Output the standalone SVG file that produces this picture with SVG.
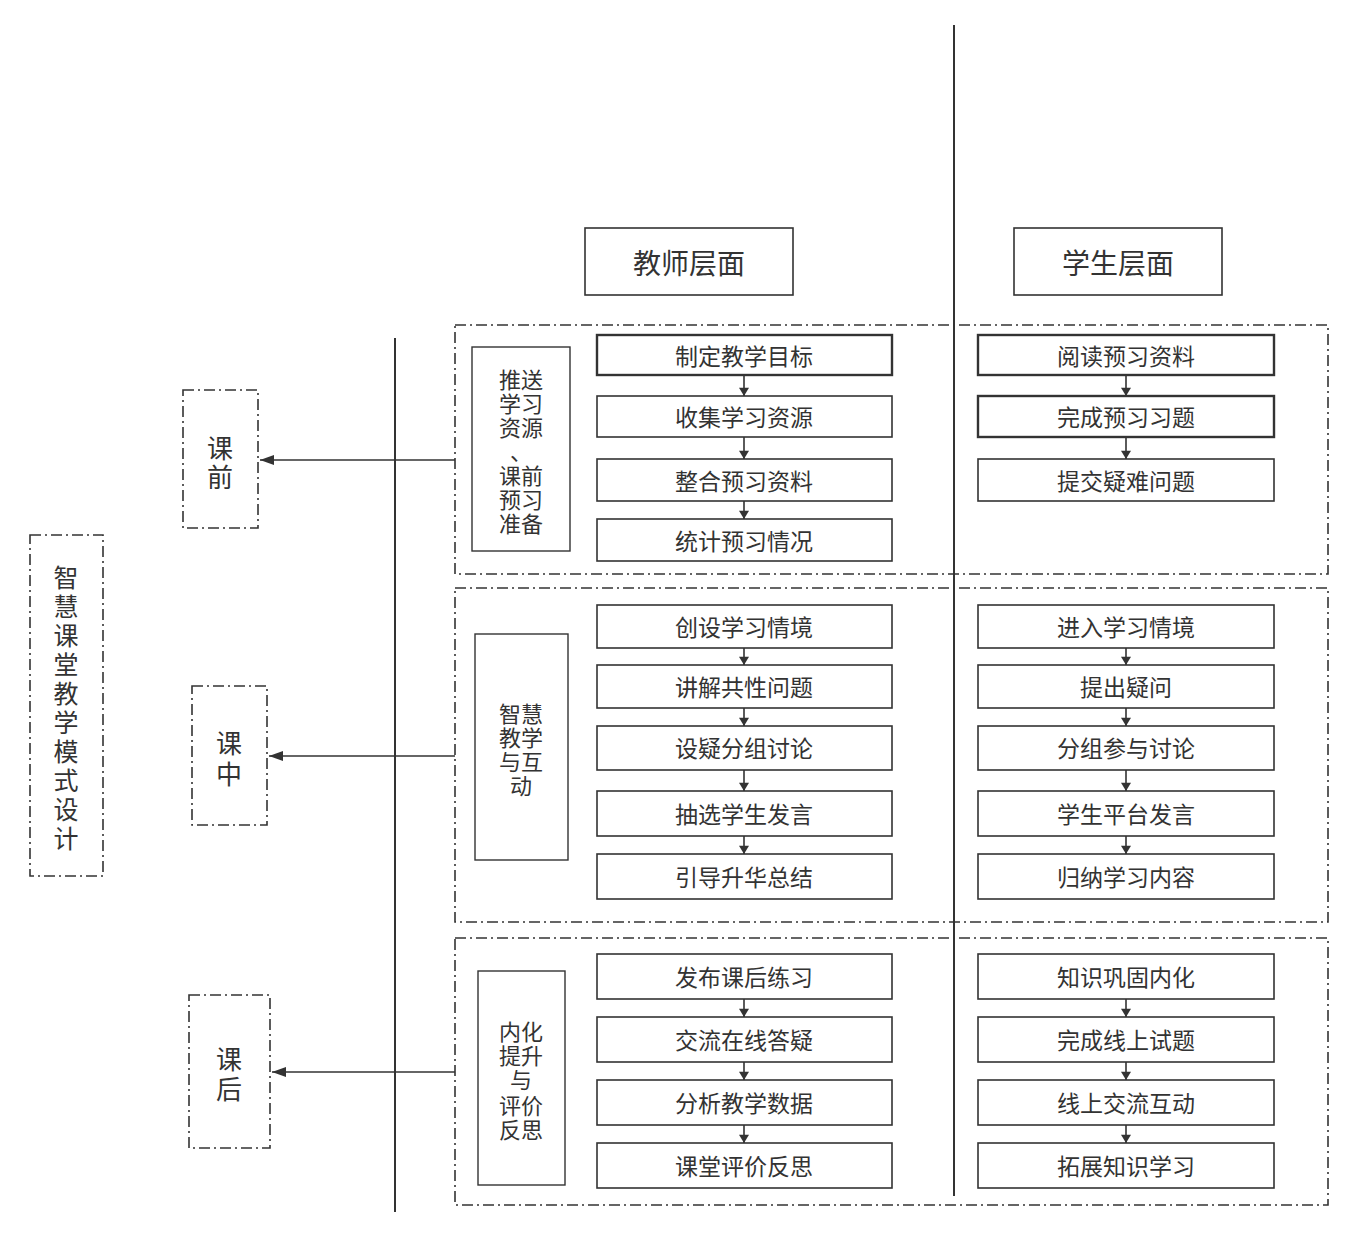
<svg xmlns="http://www.w3.org/2000/svg" width="1358" height="1237" viewBox="0 0 1358 1237">
<defs>
<style>
text{font-family:"Noto Sans CJK SC","Noto Sans",sans-serif;fill:#333;text-anchor:middle;dominant-baseline:central}
.dd{fill:none;stroke:#333;stroke-width:1.6;stroke-dasharray:11,4,2,4}
.box{fill:#fff;stroke:#333;stroke-width:1.6}
.bold{stroke-width:2.4}
.lbl{fill:#fff;stroke:#333;stroke-width:1.4}
.t{font-size:23px}
.h{font-size:28px}
.s{font-size:22px}
.big{font-size:26px}
.col{font-size:25px}
.axis{stroke:#333;stroke-width:2}
.ln{stroke:#333;stroke-width:1.6;fill:none}
</style>
<marker id="ah" viewBox="0 0 10 12" refX="10" refY="6" markerWidth="12" markerHeight="10" markerUnits="userSpaceOnUse" orient="auto">
<path d="M0,0 L10,6 L0,12 z" fill="#333"/>
</marker>
<marker id="al" viewBox="0 0 14 10" refX="14" refY="5" markerWidth="14" markerHeight="10" markerUnits="userSpaceOnUse" orient="auto">
<path d="M0,0 L14,5 L0,10 z" fill="#333"/>
</marker>
</defs>
<rect width="1358" height="1237" fill="#fff"/>

<g id="axes">
<line class="axis" x1="954" y1="25" x2="954" y2="1196"/>
<line class="axis" x1="395" y1="338" x2="395" y2="1212"/>
</g>

<g id="headers">
<g id="teacher-header"><rect class="box" x="585" y="228" width="208" height="67"/><text class="h" x="689" y="262">教师层面</text></g>
<g id="student-header"><rect class="box" x="1014" y="228" width="208" height="67"/><text class="h" x="1118" y="262">学生层面</text></g>
</g>

<g id="sections">
<rect class="dd" x="455" y="325" width="873" height="249"/>
<rect class="dd" x="455" y="588" width="873" height="334"/>
<rect class="dd" x="455" y="938" width="873" height="267"/>
</g>

<g id="main-label">
<rect class="dd" x="30" y="535" width="73" height="341"/>
<text class="col" x="66" y="576">智</text>
<text class="col" x="66" y="605">慧</text>
<text class="col" x="66" y="634">课</text>
<text class="col" x="66" y="663">堂</text>
<text class="col" x="66" y="692">教</text>
<text class="col" x="66" y="721">学</text>
<text class="col" x="66" y="750">模</text>
<text class="col" x="66" y="779">式</text>
<text class="col" x="66" y="808">设</text>
<text class="col" x="66" y="837">计</text>
</g>

<g id="phase-before"><rect class="dd" x="183" y="390" width="75" height="138"/><text class="big" x="220" y="446">课</text><text class="big" x="220" y="475">前</text></g>
<g id="phase-during"><rect class="dd" x="192" y="686" width="75" height="139"/><text class="big" x="229" y="741">课</text><text class="big" x="229" y="772">中</text></g>
<g id="phase-after"><rect class="dd" x="189" y="995" width="81" height="153"/><text class="big" x="229" y="1057">课</text><text class="big" x="229" y="1087">后</text></g>

<g id="label-1"><rect class="lbl" x="472" y="347" width="98" height="204"/>
<text class="s" x="521" y="378">推送</text><text class="s" x="521" y="402">学习</text><text class="s" x="521" y="426">资源</text><text class="s" x="521" y="450">、</text><text class="s" x="521" y="474">课前</text><text class="s" x="521" y="498">预习</text><text class="s" x="521" y="522">准备</text></g>
<g id="label-2"><rect class="lbl" x="475" y="634" width="93" height="226"/>
<text class="s" x="521" y="712">智慧</text><text class="s" x="521" y="736">教学</text><text class="s" x="521" y="760">与互</text><text class="s" x="521" y="784">动</text></g>
<g id="label-3"><rect class="lbl" x="478" y="971" width="87" height="214"/>
<text class="s" x="521" y="1030">内化</text><text class="s" x="521" y="1054">提升</text><text class="s" x="521" y="1078">与</text><text class="s" x="521" y="1104">评价</text><text class="s" x="521" y="1128">反思</text></g>

<g id="t1"><rect class="box bold" x="597" y="335" width="295" height="40"/><text class="t" x="744" y="355">制定教学目标</text></g>
<g id="t2"><rect class="box" x="597" y="396" width="295" height="41"/><text class="t" x="744" y="416">收集学习资源</text></g>
<g id="t3"><rect class="box" x="597" y="459" width="295" height="42"/><text class="t" x="744" y="480">整合预习资料</text></g>
<g id="t4"><rect class="box" x="597" y="519" width="295" height="42"/><text class="t" x="744" y="540">统计预习情况</text></g>

<g id="s1"><rect class="box bold" x="978" y="335" width="296" height="40"/><text class="t" x="1126" y="355">阅读预习资料</text></g>
<g id="s2"><rect class="box bold" x="978" y="396" width="296" height="41"/><text class="t" x="1126" y="416">完成预习习题</text></g>
<g id="s3"><rect class="box" x="978" y="459" width="296" height="42"/><text class="t" x="1126" y="480">提交疑难问题</text></g>

<g id="t5"><rect class="box" x="597" y="605" width="295" height="43"/><text class="t" x="744" y="626">创设学习情境</text></g>
<g id="t6"><rect class="box" x="597" y="665" width="295" height="43"/><text class="t" x="744" y="686">讲解共性问题</text></g>
<g id="t7"><rect class="box" x="597" y="726" width="295" height="44"/><text class="t" x="744" y="747">设疑分组讨论</text></g>
<g id="t8"><rect class="box" x="597" y="791" width="295" height="45"/><text class="t" x="744" y="813">抽选学生发言</text></g>
<g id="t9"><rect class="box" x="597" y="854" width="295" height="45"/><text class="t" x="744" y="876">引导升华总结</text></g>

<g id="s4"><rect class="box" x="978" y="605" width="296" height="43"/><text class="t" x="1126" y="626">进入学习情境</text></g>
<g id="s5"><rect class="box" x="978" y="665" width="296" height="43"/><text class="t" x="1126" y="686">提出疑问</text></g>
<g id="s6"><rect class="box" x="978" y="726" width="296" height="44"/><text class="t" x="1126" y="747">分组参与讨论</text></g>
<g id="s7"><rect class="box" x="978" y="791" width="296" height="45"/><text class="t" x="1126" y="813">学生平台发言</text></g>
<g id="s8"><rect class="box" x="978" y="854" width="296" height="45"/><text class="t" x="1126" y="876">归纳学习内容</text></g>

<g id="t10"><rect class="box" x="597" y="954" width="295" height="45"/><text class="t" x="744" y="976">发布课后练习</text></g>
<g id="t11"><rect class="box" x="597" y="1017" width="295" height="45"/><text class="t" x="744" y="1039">交流在线答疑</text></g>
<g id="t12"><rect class="box" x="597" y="1080" width="295" height="45"/><text class="t" x="744" y="1102">分析教学数据</text></g>
<g id="t13"><rect class="box" x="597" y="1143" width="295" height="45"/><text class="t" x="744" y="1165">课堂评价反思</text></g>

<g id="s9"><rect class="box" x="978" y="954" width="296" height="45"/><text class="t" x="1126" y="976">知识巩固内化</text></g>
<g id="s10"><rect class="box" x="978" y="1017" width="296" height="45"/><text class="t" x="1126" y="1039">完成线上试题</text></g>
<g id="s11"><rect class="box" x="978" y="1080" width="296" height="45"/><text class="t" x="1126" y="1102">线上交流互动</text></g>
<g id="s12"><rect class="box" x="978" y="1143" width="296" height="45"/><text class="t" x="1126" y="1165">拓展知识学习</text></g>

<g id="connectors">
<line class="ln" x1="455" y1="460" x2="260" y2="460" marker-end="url(#al)"/>
<line class="ln" x1="455" y1="756" x2="269" y2="756" marker-end="url(#al)"/>
<line class="ln" x1="455" y1="1072" x2="272" y2="1072" marker-end="url(#al)"/>

<line class="ln" x1="744" y1="376" x2="744" y2="396" marker-end="url(#ah)"/>
<line class="ln" x1="744" y1="437" x2="744" y2="459" marker-end="url(#ah)"/>
<line class="ln" x1="744" y1="501" x2="744" y2="519" marker-end="url(#ah)"/>
<line class="ln" x1="1126" y1="376" x2="1126" y2="396" marker-end="url(#ah)"/>
<line class="ln" x1="1126" y1="438" x2="1126" y2="459" marker-end="url(#ah)"/>

<line class="ln" x1="744" y1="648" x2="744" y2="665" marker-end="url(#ah)"/>
<line class="ln" x1="744" y1="708" x2="744" y2="726" marker-end="url(#ah)"/>
<line class="ln" x1="744" y1="770" x2="744" y2="791" marker-end="url(#ah)"/>
<line class="ln" x1="744" y1="836" x2="744" y2="854" marker-end="url(#ah)"/>
<line class="ln" x1="1126" y1="648" x2="1126" y2="665" marker-end="url(#ah)"/>
<line class="ln" x1="1126" y1="708" x2="1126" y2="726" marker-end="url(#ah)"/>
<line class="ln" x1="1126" y1="770" x2="1126" y2="791" marker-end="url(#ah)"/>
<line class="ln" x1="1126" y1="836" x2="1126" y2="854" marker-end="url(#ah)"/>

<line class="ln" x1="744" y1="999" x2="744" y2="1017" marker-end="url(#ah)"/>
<line class="ln" x1="744" y1="1062" x2="744" y2="1080" marker-end="url(#ah)"/>
<line class="ln" x1="744" y1="1125" x2="744" y2="1143" marker-end="url(#ah)"/>
<line class="ln" x1="1126" y1="999" x2="1126" y2="1017" marker-end="url(#ah)"/>
<line class="ln" x1="1126" y1="1062" x2="1126" y2="1080" marker-end="url(#ah)"/>
<line class="ln" x1="1126" y1="1125" x2="1126" y2="1143" marker-end="url(#ah)"/>
</g>
</svg>
